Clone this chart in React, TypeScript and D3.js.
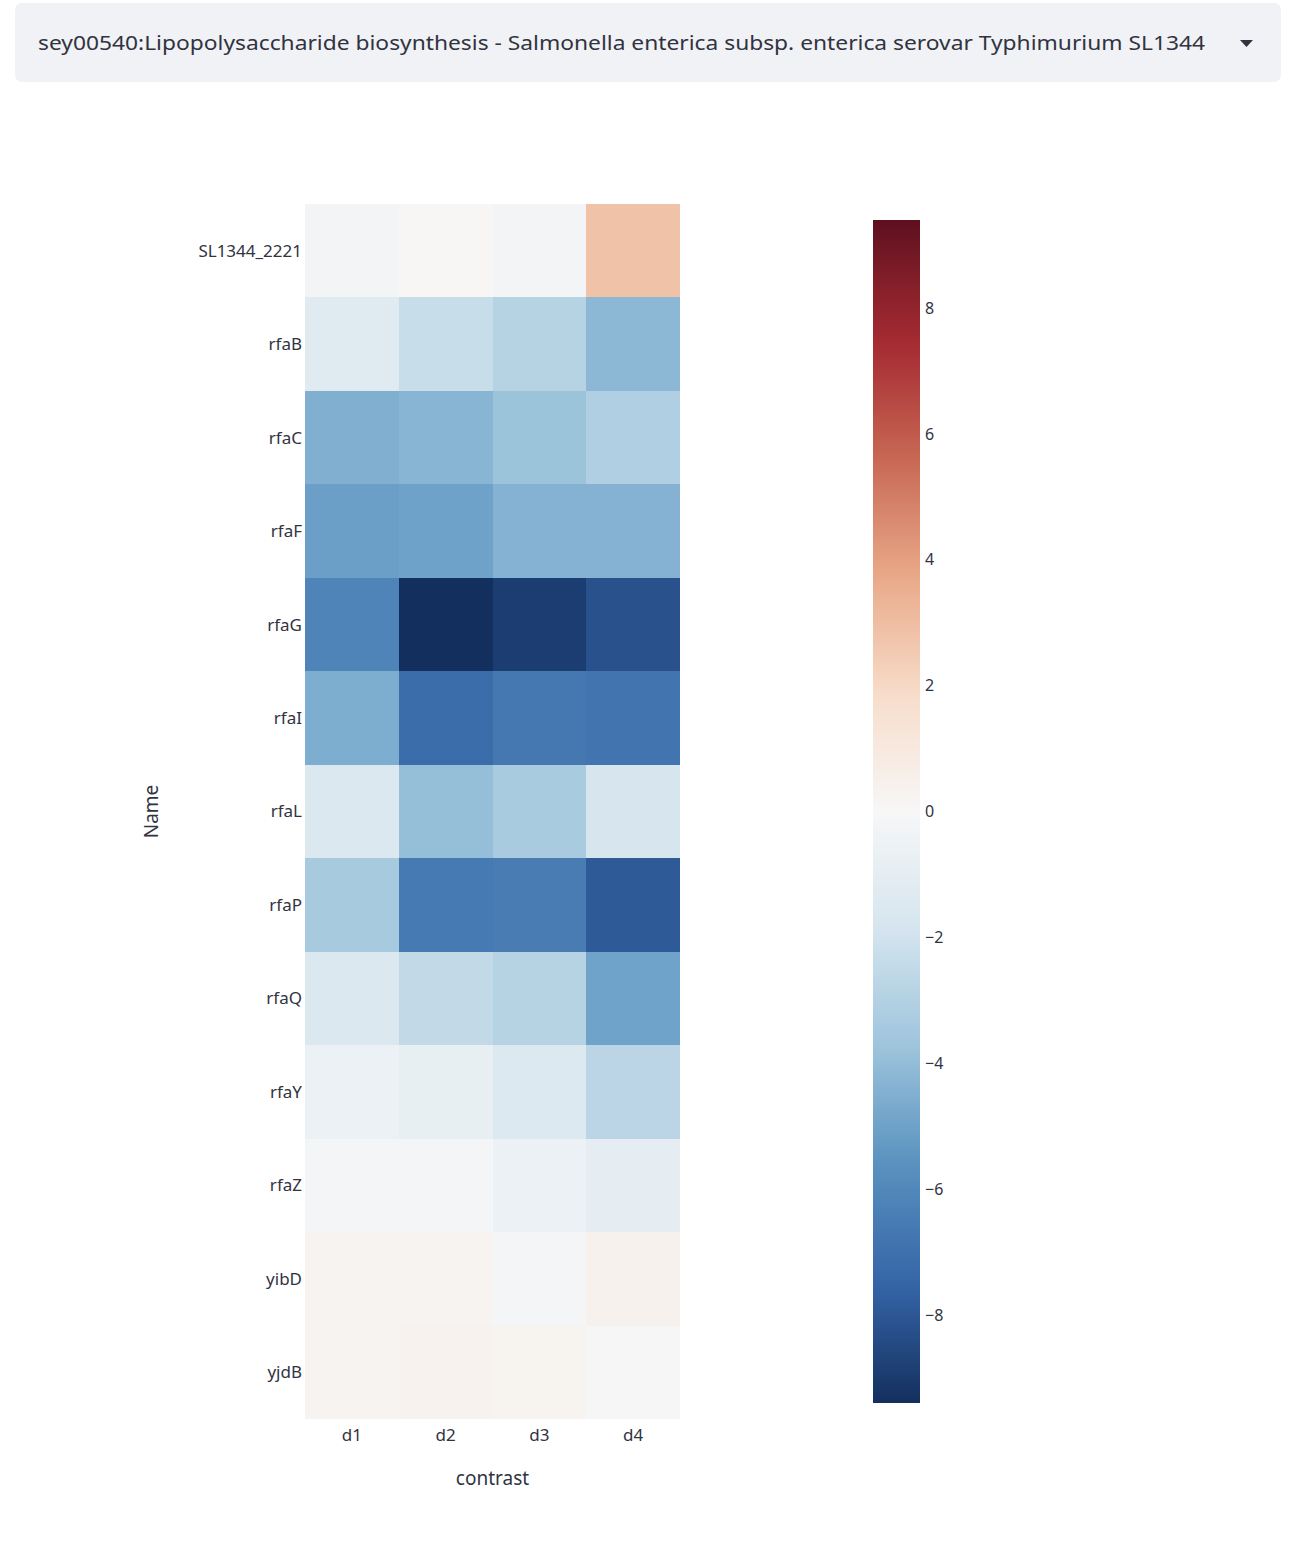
import React from 'react';
import * as d3 from 'd3';

const title = 'sey00540:Lipopolysaccharide biosynthesis - Salmonella enterica subsp. enterica serovar Typhimurium SL1344';

const contrasts = ['d1', 'd2', 'd3', 'd4'];
const genes = ['SL1344_2221', 'rfaB', 'rfaC', 'rfaF', 'rfaG', 'rfaI', 'rfaL', 'rfaP', 'rfaQ', 'rfaY', 'rfaZ', 'yibD', 'yjdB'];

// one row per gene, columns d1..d4 (log2 fold change)
const values = [
  [-0.3, 0.1, -0.3, 2.8],
  [-1.3, -2.3, -2.9, -4.2],
  [-4.5, -4.3, -3.8, -3.1],
  [-5.1, -5.0, -4.4, -4.4],
  [-6.2, -9.4, -8.9, -8.2],
  [-4.6, -7.2, -6.7, -6.85],
  [-1.55, -3.95, -3.35, -1.75],
  [-3.4, -6.6, -6.5, -7.9],
  [-1.55, -2.5, -2.9, -4.95],
  [-0.6, -0.8, -1.45, -2.75],
  [-0.2, -0.2, -0.6, -1.0],
  [0.27, 0.27, -0.2, 0.4],
  [0.27, 0.34, 0.3, 0.05],
];

const colorbarTicks = [-8, -6, -4, -2, 0, 2, 4, 6, 8];

const rdbuR = [
  'rgb(5,48,97)', 'rgb(33,102,172)', 'rgb(67,147,195)', 'rgb(146,197,222)', 'rgb(209,229,240)',
  'rgb(247,247,247)', 'rgb(253,219,199)', 'rgb(244,165,130)', 'rgb(214,96,77)', 'rgb(178,24,43)', 'rgb(103,0,31)',
];

const zmax = 9.4;
const textColor = 'rgb(49,51,63)';
const font = '"Noto Sans", "Open Sans", sans-serif';

// the reference screenshot was captured in Display P3, so shift sRGB colours the same way
const toP3 = (c: string): string => {
  const { r, g, b } = d3.rgb(c);
  const lin = (v: number) => {
    v /= 255;
    return v <= 0.04045 ? v / 12.92 : Math.pow((v + 0.055) / 1.055, 2.4);
  };
  const enc = (v: number) => {
    v = Math.max(0, Math.min(1, v));
    return 255 * (v <= 0.0031308 ? 12.92 * v : 1.055 * Math.pow(v, 1 / 2.4) - 0.055);
  };
  const R = lin(r);
  const G = lin(g);
  const B = lin(b);
  return d3
    .rgb(enc(0.8225 * R + 0.1774 * G), enc(0.0332 * R + 0.9669 * G), enc(0.0171 * R + 0.0724 * G + 0.9108 * B))
    .formatRgb();
};

const App: React.FC = () => {
  const width = 1290;
  const height = 1558;

  const plot = { left: 305, right: 680, top: 204, bottom: 1419 };
  const bar = { left: 873, right: 920, top: 220, bottom: 1403 };

  const x = d3.scaleBand<string>().domain(contrasts).range([plot.left, plot.right]);
  const y = d3.scaleBand<string>().domain(genes).range([plot.top, plot.bottom]);

  const stops = d3.range(rdbuR.length).map((i) => -zmax + (2 * zmax * i) / (rdbuR.length - 1));
  const base = d3
    .scaleLinear<string>()
    .domain(stops)
    .range(rdbuR)
    .interpolate(d3.interpolateRgb)
    .clamp(true);
  const color = (v: number) => toP3(base(v));

  const cy = d3.scaleLinear().domain([-zmax, zmax]).range([bar.bottom, bar.top]);
  const gradStops = d3.range(0, 1.0001, 0.02);

  const cells = genes.flatMap((g, i) => contrasts.map((c, j) => ({ g, c, v: values[i][j] })));

  return (
    <svg
      width={width}
      height={height}
      style={{ position: 'absolute', left: 0, top: 0, background: '#fff' }}
      fontFamily={font}
    >
      <defs>
        <linearGradient id="cbar" x1="0" y1="1" x2="0" y2="0">
          {gradStops.map((t) => (
            <stop key={t} offset={t} stopColor={color(-zmax + 2 * zmax * t)} />
          ))}
        </linearGradient>
      </defs>

      {/* dropdown */}
      <rect x={15} y={3} width={1266} height={79} rx={7} fill="rgb(240,242,246)" />
      <text
        x={38}
        y={50}
        fontSize={20}
        fill={textColor}
        textLength={1167}
        lengthAdjust="spacingAndGlyphs"
      >
        {title}
      </text>
      <path d="M1240,40 L1253,40 L1246.5,47 Z" fill={textColor} />

      {/* heatmap */}
      <g shapeRendering="crispEdges">
        {cells.map((d) => (
          <rect
            key={d.g + d.c}
            x={x(d.c)}
            y={y(d.g)}
            width={x.bandwidth()}
            height={y.bandwidth()}
            fill={color(d.v)}
          />
        ))}
      </g>

      {/* y ticks */}
      {genes.map((g) => (
        <text
          key={g}
          x={plot.left - 3}
          y={(y(g) as number) + y.bandwidth() / 2}
          dy="0.35em"
          textAnchor="end"
          fontSize={17}
          fill={textColor}
        >
          {g}
        </text>
      ))}
      {/* x ticks */}
      {contrasts.map((c) => (
        <text
          key={c}
          x={(x(c) as number) + x.bandwidth() / 2}
          y={1441}
          textAnchor="middle"
          fontSize={17}
          fill={textColor}
        >
          {c}
        </text>
      ))}
      <text x={(plot.left + plot.right) / 2} y={1485} textAnchor="middle" fontSize={19} fill={textColor}>
        contrast
      </text>
      <text
        transform={`translate(158,${(plot.top + plot.bottom) / 2}) rotate(-90)`}
        textAnchor="middle"
        fontSize={19}
        fill={textColor}
      >
        Name
      </text>

      {/* colorbar */}
      <rect x={bar.left} y={bar.top} width={bar.right - bar.left} height={bar.bottom - bar.top} fill="url(#cbar)" />
      {colorbarTicks.map((t) => (
        <text key={t} x={bar.right + 5} y={cy(t)} dy="0.35em" fontSize={16} fill={textColor}>
          {t < 0 ? `\u2212${-t}` : t}
        </text>
      ))}
    </svg>
  );
};

export default App;
